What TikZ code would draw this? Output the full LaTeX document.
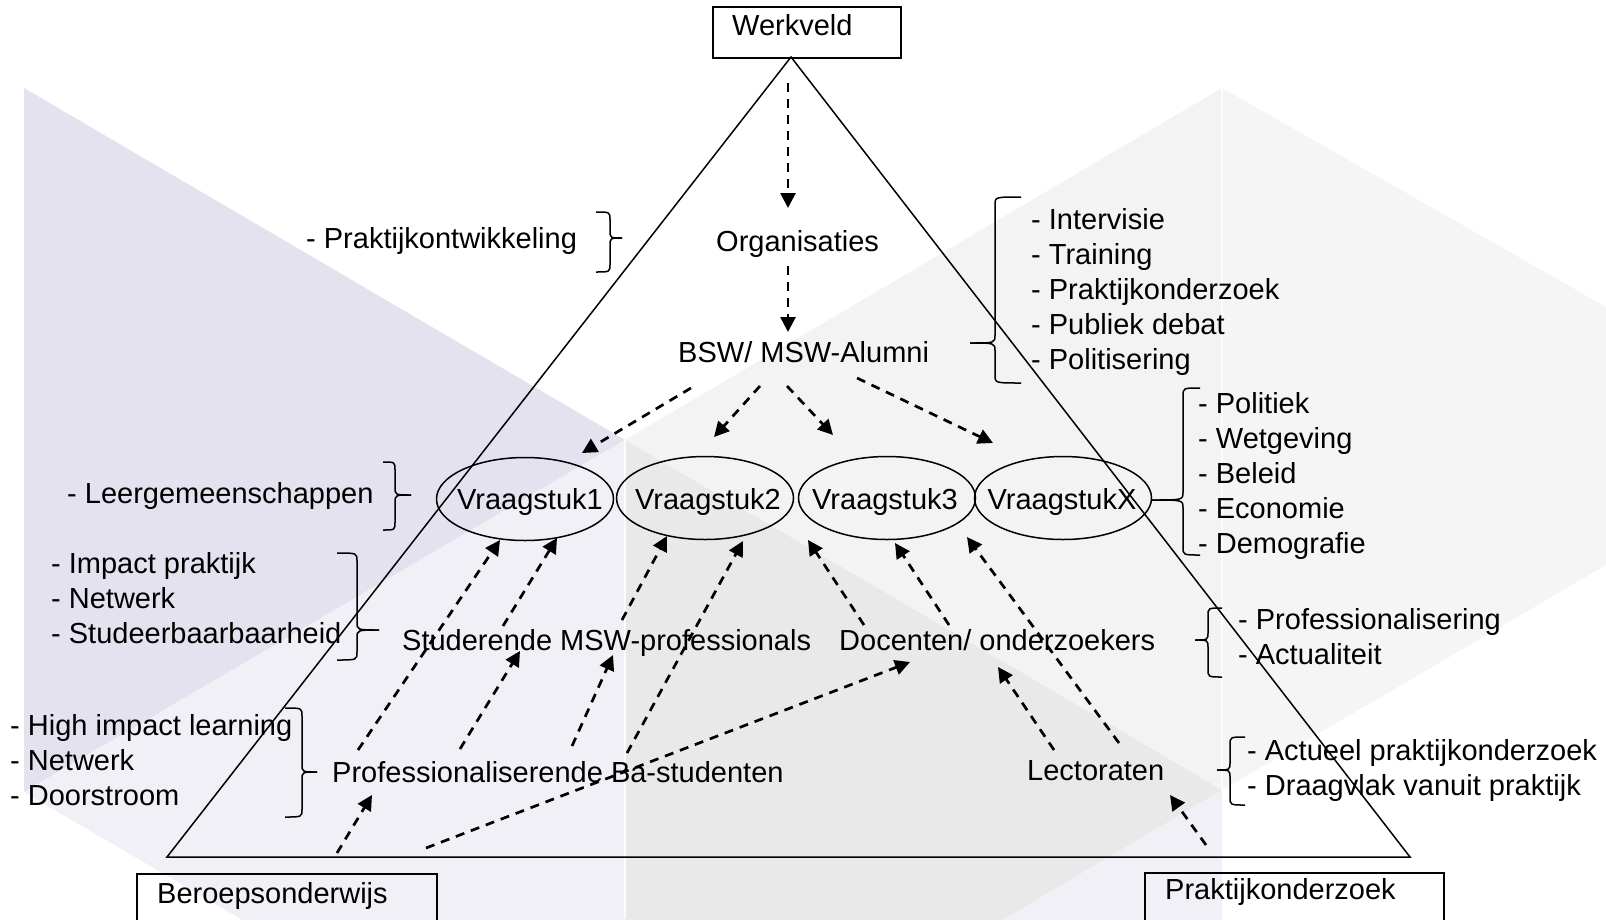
\documentclass[tikz,border=0pt]{standalone}
\usepackage{fontspec}
\setmainfont{Liberation Sans}
\usetikzlibrary{arrows.meta,shapes.geometric}
\definecolor{lav}{RGB}{228,226,238}
\definecolor{lavlight}{RGB}{241,240,246}
\definecolor{greylight}{RGB}{243,243,243}
\definecolor{greydark}{RGB}{233,233,233}
\definecolor{greyright}{RGB}{245,245,245}
\newcommand\CurlyBrace[6]{% #1 vertical x, #2 top y, #3 bottom y, #4 tip y, #5 tick x, #6 tip x
  \draw[thinline] (#5,#2) .. controls (#1,#2) .. (#1,#2+8) -- (#1,#4-8) .. controls (#1,#4) .. (#6,#4);
  \draw[thinline] (#6,#4) .. controls (#1,#4) .. (#1,#4+8) -- (#1,#3-8) .. controls (#1,#3) .. (#5,#3);}
\begin{document}
\begin{tikzpicture}[x=1pt,y=-1pt,
  every node/.style={font=\fontsize{29}{35}\selectfont, inner sep=0pt},
  lbl/.style={anchor=base west},
  arr/.style={line width=2.7pt, dash pattern=on 9pt off 7pt, -{Triangle[length=15pt,width=15pt]}},
  thinline/.style={line width=1.5pt},
  vq/.style={draw, ellipse, line width=1.5pt, minimum width=177pt, minimum height=83pt},
  boxed/.style={draw, line width=1.5pt, anchor=north west}]
\useasboundingbox (0,0) rectangle (1606,919);
\begin{scope}
\clip (0,0) rectangle (1606,919);
% background facets
\fill[white] (0,0) rectangle (1606,919);
\fill[lav] (24,88) -- (625,440) -- (24,792) -- cycle;
\fill[lavlight] (24,792) -- (625,440) -- (625,1144) -- cycle;
\fill[greylight] (625,440) -- (1222,88) -- (1222,790) -- cycle;
\fill[greydark] (625,440) -- (1222,790) -- (625,1144) -- cycle;
\fill[lavlight] (625,1144) -- (1222,790) -- (1222,1500) -- cycle;
\fill[greyright] (1222,88) -- (1606,307) -- (1606,565) -- (1222,790) -- cycle;
\draw[white, line width=1.2pt, opacity=0.8] (625,440) -- (625,919);
\draw[white, line width=1.2pt, opacity=0.8] (1222,88) -- (1222,790);

% main triangle
\coordinate (apex) at (791,57);
\coordinate (bl) at (167,857);
\coordinate (br) at (1410,857);
\draw[thinline] (apex) -- (bl) -- (br) -- cycle;

% corner boxes
\node[boxed, minimum width=188pt, minimum height=51pt] (werkbox) at (712,6) {};
\node[lbl] (werk) at (732,35) {Werkveld};
\node[boxed, minimum width=300pt, minimum height=70pt] (berbox) at (136,873) {};
\node[lbl] (ber) at (157,903) {Beroepsonderwijs};
\node[boxed, minimum width=299pt, minimum height=70pt] (prkbox) at (1144,872) {};
\node[lbl] (prk) at (1165,899) {Praktijkonderzoek};

% central labels
\node[lbl] (org) at (716,251) {Organisaties};
\node[lbl] (bsw) at (678,362) {BSW/ MSW-Alumni};
\node[lbl] (stud) at (402,650) {Studerende MSW-professionals};
\node[lbl] (doc) at (839,650) {Docenten/ onderzoekers};
\node[lbl] (ba) at (332,782) {Professionaliserende Ba-studenten};
\node[lbl] (lect) at (1027,780) {Lectoraten};

% vraagstukken
\node[vq] (v1) at (525,499) {};
\node[vq] (v2) at (705,498) {};
\node[vq] (v3) at (887,498) {};
\node[vq] (vx) at (1063,498) {};
\node[anchor=base] (t1) at (530,509) {Vraagstuk1};
\node[anchor=base] (t2) at (708,509) {Vraagstuk2};
\node[anchor=base] (t3) at (885,509) {Vraagstuk3};
\node[anchor=base] (tx) at (1062,509) {VraagstukX};

% side lists
\node[lbl] (praktont) at (306,248) {- Praktijkontwikkeling};
\node[lbl] (leerg) at (67,503) {- Leergemeenschappen};
\foreach \t [count=\i from 0] in {- Intervisie, - Training, - Praktijkonderzoek, - Publiek debat, - Politisering}
  \node[lbl, name=inter\i] at (1031,229+35*\i) {\t};
\foreach \t [count=\i from 0] in {- Politiek, - Wetgeving, - Beleid, - Economie, - Demografie}
  \node[lbl, name=pol\i] at (1198,413+35*\i) {\t};
\foreach \t [count=\i from 0] in {- Impact praktijk, - Netwerk, - Studeerbaarbaarheid}
  \node[lbl, name=imp\i] at (51,573+35*\i) {\t};
\foreach \t [count=\i from 0] in {- High impact learning, - Netwerk, - Doorstroom}
  \node[lbl, name=high\i] at (10,735+35*\i) {\t};
\foreach \t [count=\i from 0] in {- Professionalisering, - Actualiteit}
  \node[lbl, name=prof\i] at (1238,629+35*\i) {\t};
\foreach \t [count=\i from 0] in {- Actueel praktijkonderzoek, - Draagvlak vanuit praktijk}
  \node[lbl, name=act\i] at (1247,760+35*\i) {\t};

% braces
\CurlyBrace{610}{212}{272}{238}{596}{622}
\CurlyBrace{395}{462}{530}{495}{383}{411}
\CurlyBrace{357}{553}{660}{630}{337}{379}
\CurlyBrace{302}{708}{817}{772}{285}{317}
\CurlyBrace{995}{197}{383}{343}{1021}{970}
\CurlyBrace{1183}{388}{555}{500}{1200}{1152}
\CurlyBrace{1208}{608}{677}{640}{1222}{1195}
\CurlyBrace{1230}{737}{805}{770}{1245}{1217}

% arrow end points
\coordinate (a1s) at (788,83);   \coordinate (a1e) at (788,208);
\coordinate (a2s) at (788,266);  \coordinate (a2e) at (788,332);
\coordinate (a3s) at (691,388);  \coordinate (a3e) at (582,453);
\coordinate (a4s) at (760,386);  \coordinate (a4e) at (714,437);
\coordinate (a5s) at (787,386);  \coordinate (a5e) at (833,435);
\coordinate (a6s) at (857,378);  \coordinate (a6e) at (993,443);
\coordinate (a7s) at (358,750);  \coordinate (a7e) at (500,540);
\coordinate (a8s) at (503,626);  \coordinate (a8e) at (557,538);
\coordinate (a9s) at (622,620);  \coordinate (a9e) at (667,536);
\coordinate (a10s) at (627,753); \coordinate (a10e) at (743,541);
\coordinate (a11s) at (460,749); \coordinate (a11e) at (520,651);
\coordinate (a12s) at (572,746); \coordinate (a12e) at (613,655);
\coordinate (a13s) at (426,848); \coordinate (a13e) at (910,662);
\coordinate (a14s) at (337,853); \coordinate (a14e) at (372,795);
\coordinate (a15s) at (864,625); \coordinate (a15e) at (808,540);
\coordinate (a16s) at (949,625); \coordinate (a16e) at (895,543);
\coordinate (a17s) at (1119,743); \coordinate (a17e) at (967,537);
\coordinate (a18s) at (1054,750); \coordinate (a18e) at (998,667);
\coordinate (a19s) at (1206,845); \coordinate (a19e) at (1170,795);
\foreach \k in {1,...,19}
  \draw[arr] (a\k s) -- (a\k e);
\end{scope}
\end{tikzpicture}
\end{document}
